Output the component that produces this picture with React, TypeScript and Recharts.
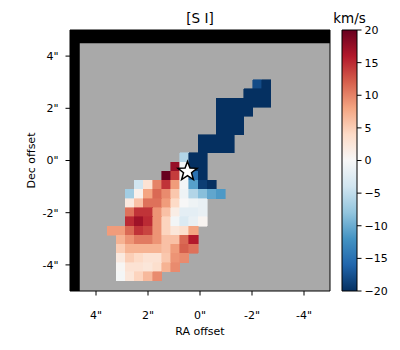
import React from "react";
import { ScatterChart, Scatter, XAxis, YAxis, ReferenceArea } from "recharts";

// axis ticks (arcsec) and colorbar ticks (km/s)
const RA_TICKS = [4, 2, 0, -2, -4];
const DEC_TICKS = [4, 2, 0, -2, -4];
const CBAR_TICKS = [-20, -15, -10, -5, 0, 5, 10, 15, 20];
const CBAR_RANGE = [{ x: 0, y: -20 }, { x: 1, y: 20 }];

// velocity map: one entry per image row, first column index + values (km/s)
const ROW_INDEX = [0, 1, 2, 3, 4, 5, 6, 7, 8, 9, 10, 11, 12, 13, 14, 15, 16, 17, 18, 19, 20, 21];
const ROW_FIRST_COL = [14, 13, 10, 10, 10, 10, 8, 8, 6, 5, 4, 1, 0, 0, 0, 0, -2, -1, -1, -1, -1, -1];
const ROW_VELOCITY = [
  [-18, -20],
  [-20, -20, -20],
  [-20, -20, -20, -20, -20, -20],
  [-20, -20, -20, -20],
  [-20, -20, -20],
  [-20, -20, -20],
  [-20, -20, -20, -20],
  [-20, -20, -20, -20],
  [-6, -20, -20],
  [17.5, -0.5, -20, -20],
  [21, 14, 0, -15, -20],
  [-4, 3, 10, 14.5, 8.5, -0.5, -11, -19, -20],
  [-7, 1, 8, 11.5, 9.5, 5.5, -1, -6, -8.5, -10.5, -11.5],
  [2, 6, 11, 11, 8.5, 4, 0, -1, -1.5],
  [11, 14.5, 14.5, 9, 6, 1.5, -2, -2, -1.5],
  [15, 17, 15, 9, 4.5, -0.5, -3, -1.5, 0.5],
  [8.5, 8.5, 11.5, 14.5, 13.5, 9, 4.5, 2.5, 3.5, 8],
  [7, 9, 10.5, 10.5, 9, 6, 6, 11.5, 16],
  [5, 7, 7, 7, 7, 6, 8.5, 12, 11],
  [2, 5, 4, 3, 3, 5.5, 9, 9.5],
  [0.3, 3, 3, 2.5, 3.5, 7, 9.5],
  [-0.3, 2.5, 4.5, 6.5, 9.5],
];

const STAR = [{ ra: 0.48, dec: -0.42 }];

// grid geometry (arcsec)
const CELL = 0.35;
const RA0 = 2.875; // left edge of column 0
const DEC0 = 3.09; // top edge of row 0
const BLACK_RA = 4.625; // masked band on the left
const BLACK_DEC = 4.49; // masked band on top

const RDBU_R = ["#053061", "#2166ac", "#4393c3", "#92c5de", "#d1e5f0", "#f7f7f7", "#fddbc7", "#f4a582", "#d6604d", "#b2182b", "#67001f"];

function hex(c: string) {
  return [1, 3, 5].map((i) => parseInt(c.slice(i, i + 2), 16));
}

function velColor(v: number) {
  const t = (Math.max(-20, Math.min(20, v)) + 20) / 40;
  const p = t * (RDBU_R.length - 1);
  const i = Math.min(RDBU_R.length - 2, Math.floor(p));
  const f = p - i;
  const a = hex(RDBU_R[i]);
  const b = hex(RDBU_R[i + 1]);
  const rgb = a.map((x, j) => Math.round(x + (b[j] - x) * f));
  return `rgb(${rgb.join(",")})`;
}

const cells = ROW_VELOCITY.flatMap((vals, i) =>
  vals.map((v, j) => {
    const k = ROW_FIRST_COL[i] + j;
    const r = ROW_INDEX[i];
    return {
      x1: RA0 - (k + 1) * CELL,
      x2: RA0 - k * CELL,
      y1: DEC0 - (r + 1) * CELL,
      y2: DEC0 - r * CELL,
      v,
    };
  })
);

const font = { fontFamily: "DejaVu Sans", fontSize: 11, fill: "#000" };

const fmtArc = (v: number) => `${v}"`;
const fmtCbar = (v: number) => (v < 0 ? `\u2212${-v}` : `${v}`);

function StarShape(props: any) {
  const { cx, cy } = props;
  const R = 10;
  const r = 4.2;
  const pts: string[] = [];
  for (let i = 0; i < 10; i++) {
    const a = -Math.PI / 2 + (i * Math.PI) / 5;
    const rad = i % 2 === 0 ? R : r;
    pts.push(`${cx + rad * Math.cos(a)},${cy + rad * Math.sin(a)}`);
  }
  return <polygon points={pts.join(" ")} fill="#fff" stroke="#000" strokeWidth={1.5} strokeLinejoin="miter" />;
}

const NoDot = () => <g />;

export default function App() {
  return (
    <div style={{ position: "absolute", left: 0, top: 0, width: 400, height: 350, background: "#fff" }}>
      <div style={{ position: "absolute", left: 0, top: 0 }}>
        <ScatterChart width={400} height={350} margin={{ top: 30, right: 70, left: 0, bottom: 0 }}>
          <XAxis
            type="number"
            dataKey="ra"
            domain={[-5, 5]}
            reversed
            allowDataOverflow
            ticks={RA_TICKS}
            tickFormatter={fmtArc}
            tick={font}
            tickSize={4.5}
            tickMargin={16}
            height={59}
            axisLine={false}
            tickLine={{ stroke: "#000" }}
            label={{ value: "RA offset", position: "center", dy: 11, style: { ...font } }}
          />
          <YAxis
            type="number"
            dataKey="dec"
            domain={[-5, 5]}
            allowDataOverflow
            ticks={DEC_TICKS}
            tickFormatter={fmtArc}
            tick={font}
            tickSize={4.5}
            tickMargin={7}
            width={70}
            axisLine={false}
            tickLine={{ stroke: "#000" }}
            label={{ value: "Dec offset", angle: -90, position: "center", dx: -4, style: { ...font } }}
          />
          <ReferenceArea x1={-5} x2={5} y1={-5} y2={5} fill="#a9a9a9" fillOpacity={1} stroke="none" />
          <ReferenceArea x1={BLACK_RA} x2={5} y1={-5} y2={5} fill="#000" fillOpacity={1} stroke="none" />
          <ReferenceArea x1={-5} x2={5} y1={BLACK_DEC} y2={5} fill="#000" fillOpacity={1} stroke="none" />
          {cells.map((c, i) => (
            <ReferenceArea
              key={i}
              x1={c.x1}
              x2={c.x2}
              y1={c.y1}
              y2={c.y2}
              fill={velColor(c.v)}
              fillOpacity={1}
              stroke={velColor(c.v)}
              strokeWidth={0.6}
              shapeRendering="crispEdges"
            />
          ))}
          <ReferenceArea
            x1={-5}
            x2={5}
            y1={-5}
            y2={5}
            fill="none"
            stroke="#000"
            strokeWidth={1}
            label={{ value: "[S I]", position: "top", offset: 7, style: { fontFamily: "DejaVu Sans", fontSize: 13.5, fill: "#000" } }}
          />
          <Scatter data={STAR} shape={<StarShape />} isAnimationActive={false} />
        </ScatterChart>
      </div>
      <div style={{ position: "absolute", left: 330, top: 0 }}>
        <ScatterChart width={70} height={350} margin={{ top: 30, right: 0, left: 12, bottom: 59 }}>
          <defs>
            <linearGradient id="rdbu" x1="0" y1="1" x2="0" y2="0">
              {RDBU_R.map((c, i) => (
                <stop key={i} offset={`${(i / (RDBU_R.length - 1)) * 100}%`} stopColor={c} />
              ))}
            </linearGradient>
          </defs>
          <XAxis type="number" dataKey="x" domain={[0, 1]} hide />
          <YAxis
            type="number"
            dataKey="y"
            orientation="right"
            domain={[-20, 20]}
            ticks={CBAR_TICKS}
            tickFormatter={fmtCbar}
            tick={{ ...font, textAnchor: "start" }}
            tickSize={4.5}
            tickMargin={3}
            width={43}
            axisLine={false}
            tickLine={{ stroke: "#000" }}
            interval={0}
          />
          <ReferenceArea
            x1={0}
            x2={1}
            y1={-20}
            y2={20}
            fill="url(#rdbu)"
            fillOpacity={1}
            stroke="#000"
            strokeWidth={1}
            label={{ value: "km/s", position: "top", offset: 7, style: { fontFamily: "DejaVu Sans", fontSize: 13.5, fill: "#000" } }}
          />
          <Scatter data={CBAR_RANGE} shape={<NoDot />} isAnimationActive={false} />
        </ScatterChart>
      </div>
    </div>
  );
}
